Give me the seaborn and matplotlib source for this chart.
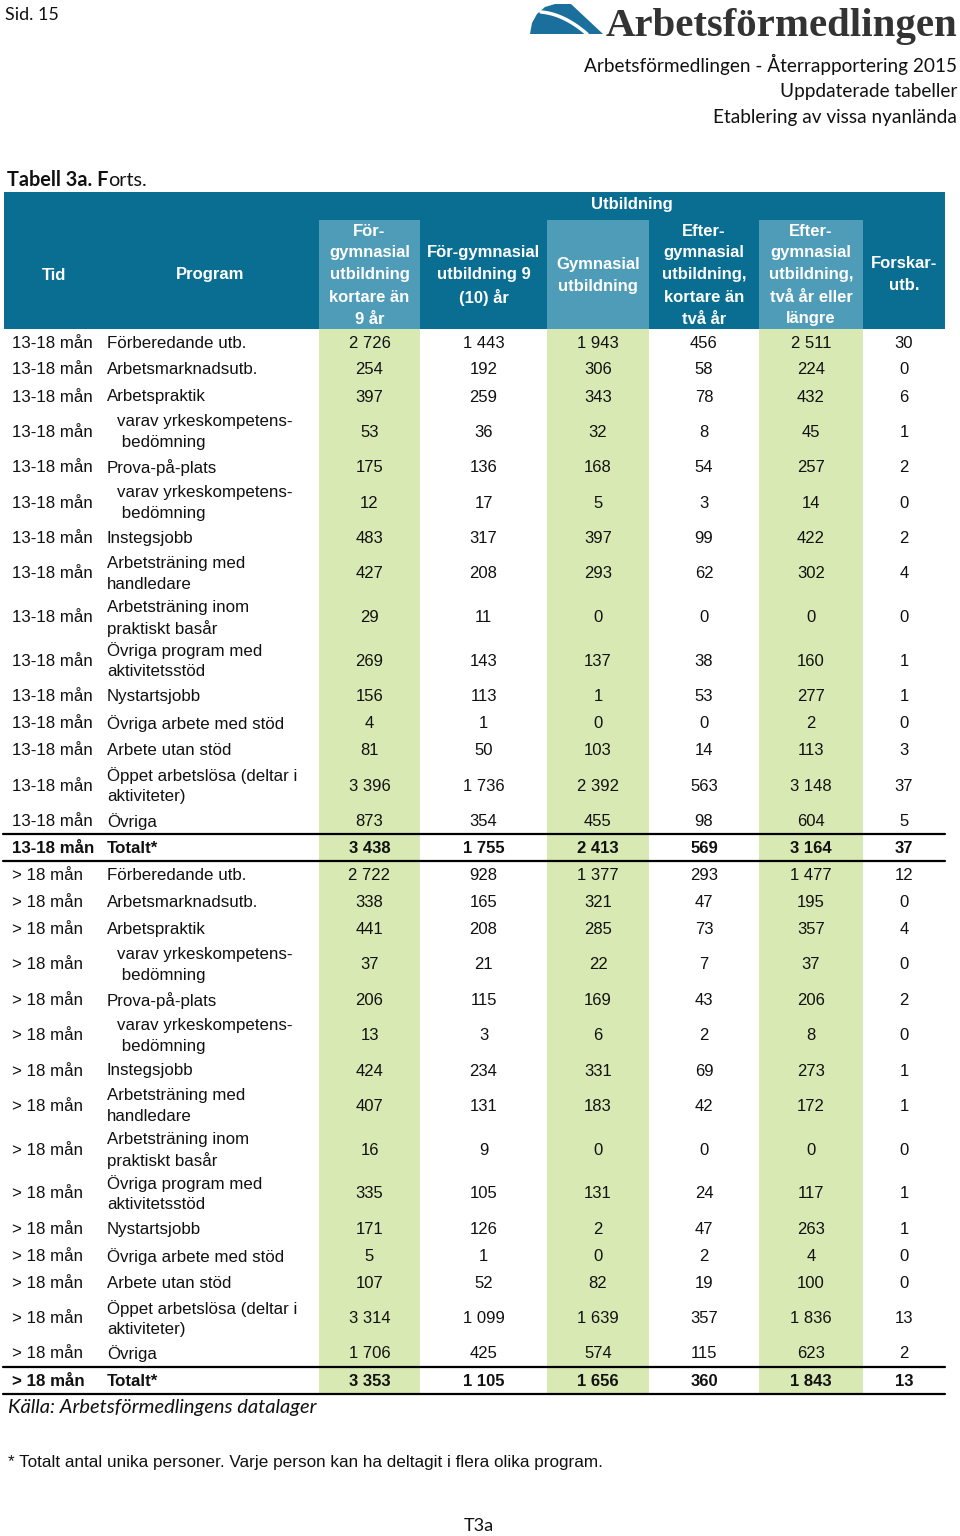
import numpy as np
import matplotlib
matplotlib.use("Agg")
import matplotlib.pyplot as plt
import seaborn as sns
from matplotlib.patches import Rectangle, Polygon

sns.set_theme(style="white")
plt.rcParams['font.family'] = ['Liberation Sans', 'DejaVu Sans']

# ---- data ----
tid_labels = ["13-18 mån", "> 18 mån"]
programs = ["Förberedande utb.", "Arbetsmarknadsutb.", "Arbetspraktik",
            "varav yrkeskompetens-\n bedömning", "Prova-på-plats",
            "varav yrkeskompetens-\n bedömning", "Instegsjobb",
            "Arbetsträning med\nhandledare", "Arbetsträning inom\npraktiskt basår",
            "Övriga program med\naktivitetsstöd", "Nystartsjobb",
            "Övriga arbete med stöd", "Arbete utan stöd",
            "Öppet arbetslösa (deltar i\naktiviteter)", "Övriga", "Totalt*"]
col_labels = ["För-\ngymnasial\nutbildning\nkortare än\n9 år",
              "För-gymnasial\nutbildning 9\n(10) år",
              "Gymnasial\nutbildning",
              "Efter-\ngymnasial\nutbildning,\nkortare än\ntvå år",
              "Efter-\ngymnasial\nutbildning,\ntvå år eller\nlängre",
              "Forskar-\nutb."]
values_13_18 = [[2726, 1443, 1943, 456, 2511, 30],
                [254, 192, 306, 58, 224, 0],
                [397, 259, 343, 78, 432, 6],
                [53, 36, 32, 8, 45, 1],
                [175, 136, 168, 54, 257, 2],
                [12, 17, 5, 3, 14, 0],
                [483, 317, 397, 99, 422, 2],
                [427, 208, 293, 62, 302, 4],
                [29, 11, 0, 0, 0, 0],
                [269, 143, 137, 38, 160, 1],
                [156, 113, 1, 53, 277, 1],
                [4, 1, 0, 0, 2, 0],
                [81, 50, 103, 14, 113, 3],
                [3396, 1736, 2392, 563, 3148, 37],
                [873, 354, 455, 98, 604, 5],
                [3438, 1755, 2413, 569, 3164, 37]]
values_over_18 = [[2722, 928, 1377, 293, 1477, 12],
                  [338, 165, 321, 47, 195, 0],
                  [441, 208, 285, 73, 357, 4],
                  [37, 21, 22, 7, 37, 0],
                  [206, 115, 169, 43, 206, 2],
                  [13, 3, 6, 2, 8, 0],
                  [424, 234, 331, 69, 273, 1],
                  [407, 131, 183, 42, 172, 1],
                  [16, 9, 0, 0, 0, 0],
                  [335, 105, 131, 24, 117, 1],
                  [171, 126, 2, 47, 263, 1],
                  [5, 1, 0, 2, 4, 0],
                  [107, 52, 82, 19, 100, 0],
                  [3314, 1099, 1639, 357, 1836, 13],
                  [1706, 425, 574, 115, 623, 2],
                  [3353, 1105, 1656, 360, 1843, 13]]

# ---- layout ----
DARK = "#0a6e93"
LIGHT = "#4f9cb8"
GREEN = "#d9e9b3"
TXT = "#111111"
col_edges = [319, 420, 547, 649, 759, 863, 945]
col_centers = [(a + b) / 2 for a, b in zip(col_edges[:-1], col_edges[1:])]
body_top = 328.5
row_h1, row_h2 = 27, 43.75

fig = plt.figure(figsize=(9.6, 15.36), dpi=100)
ax = fig.add_axes([0, 0, 1, 1])
ax.set_xlim(0, 960)
ax.set_ylim(1536, 0)
ax.axis("off")


def lines(x, y, s, step, **kw):
    parts = s.split("\n")
    n = len(parts)
    for i, p in enumerate(parts):
        ax.text(x, y + (i - (n - 1) / 2) * step, p, va="center", **kw)


def fmt(v):
    return f"{v:,}".replace(",", " ")


# page header
ax.text(5, 15, "Sid. 15", fontsize=13, family="Lato", va="center", color=TXT)
ax.add_patch(Polygon([(530, 34), (532, 23), (537, 14), (545, 7), (555, 4),
                      (571, 4), (603, 34)], closed=True, color="#1a6f9c", lw=0))
t = np.linspace(0, 1, 30)
ax.plot(541 + 46 * t, 12 + 4 * t + 18 * t ** 2, color="white", lw=2.5)
logo = ax.text(606, 36, "Arbetsförmedlingen", family="Liberation Serif",
               weight="bold", fontsize=30, color="#333333", va="baseline")
fig.canvas.draw()
w = logo.get_window_extent().width
logo.set_fontsize(30 * 351 / w)
for i, s in enumerate(["Arbetsförmedlingen - Återrapportering 2015",
                       "Uppdaterade tabeller", "Etablering av vissa nyanlända"]):
    ax.text(957, 64 + 27 * i, s, ha="right", va="center", family="Lato",
            fontsize=13.7, color=TXT)

tb = ax.text(7, 180, "Tabell 3a. F", family="Lato", weight="bold", fontsize=14.3,
             va="center", color=TXT)
fig.canvas.draw()
x_end = ax.transData.inverted().transform(
    (tb.get_window_extent().x1, 0))[0]
ax.text(x_end, 180, "orts.", family="Lato", fontsize=14.3, va="center", color=TXT)

# table header
ax.add_patch(Rectangle((4, 192), 941, body_top - 192, color=DARK, lw=0))
for k in (0, 2, 4):
    ax.add_patch(Rectangle((col_edges[k], 220), col_edges[k + 1] - col_edges[k],
                           body_top - 220, color=LIGHT, lw=0))
hk = dict(color="white", weight="bold", fontsize=12, ha="center")
ax.text(632, 205, "Utbildning", va="center", **hk)
ax.text(54, 275, "Tid", va="center", **hk)
ax.text(210, 275, "Program", va="center", **hk)
for cx, lab in zip(col_centers, col_labels):
    lines(cx, 275, lab, 22, **hk)

# body rows
heights = [row_h2 if "\n" in p else row_h1 for p in programs]
body_bottom = body_top + 2 * sum(heights)
for k in (0, 2, 4):
    ax.add_patch(Rectangle((col_edges[k], body_top), col_edges[k + 1] - col_edges[k],
                           body_bottom - body_top, color=GREEN, lw=0))

y = body_top
for tid, block in zip(tid_labels, [values_13_18, values_over_18]):
    for prog, h, vals in zip(programs, heights, block):
        yc = y + h / 2 + 1
        bold = prog.startswith("Totalt")
        wt = "bold" if bold else "normal"
        ax.text(12, yc, tid, va="center", fontsize=12.2, weight=wt, color=TXT)
        px = 117 if prog.startswith("varav") else 107
        lines(px, yc, prog, 21, fontsize=12.2, weight=wt, color=TXT, ha="left")
        for cx, v in zip(col_centers, vals):
            ax.text(cx, yc, fmt(v), ha="center", va="center", fontsize=12,
                    weight=wt, color=TXT)
        if bold:
            ax.plot([3, 945], [y, y], color="black", lw=1.6)
            ax.plot([3, 945], [y + h, y + h], color="black", lw=1.6)
        y += h

# notes
ax.text(8, 1408, "Källa: Arbetsförmedlingens datalager", family="Lato",
        style="italic", fontsize=14.5, va="center", color=TXT)
ax.text(8, 1462, "* Totalt antal unika personer. Varje person kan ha deltagit i flera olika program.",
        fontsize=12.3, va="center", color=TXT)
ax.text(479, 1526, "T3a", family="Lato", fontsize=13, ha="center", va="center", color=TXT)

fig.savefig("out.png", dpi=100)
